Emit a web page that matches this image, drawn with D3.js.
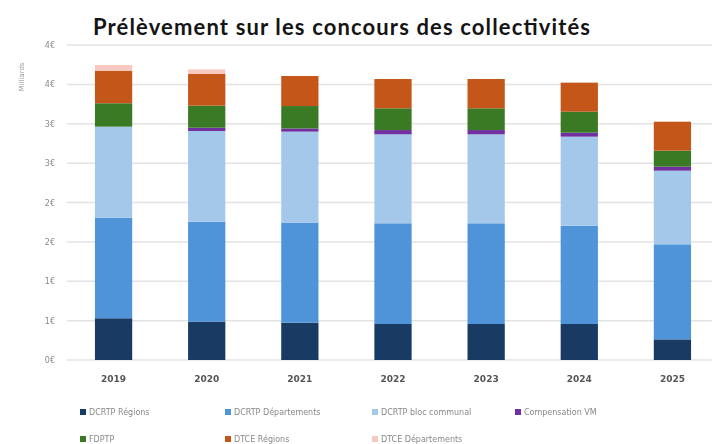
<!DOCTYPE html>
<html>
<head>
<meta charset="utf-8">
<script src="https://cdn.jsdelivr.net/npm/d3@7"></script>
<style>
  body { margin: 0; background: #fff; }
  svg { display: block; }
  .plot { filter: blur(0.35px); }
</style>
</head>
<body>
<script>
// years on x axis
var years = ['2019', '2020', '2021', '2022', '2023', '2024', '2025'];

// series values, in billions of euros
var dcrtpRegions      = [0.53, 0.487, 0.474, 0.457, 0.457, 0.457, 0.262];
var dcrtpDepartements = [1.277, 1.269, 1.270, 1.279, 1.279, 1.249, 1.207];
var dcrtpBloc         = [1.156, 1.152, 1.156, 1.130, 1.130, 1.130, 0.935];
var compensationVM    = [0.0, 0.042, 0.040, 0.054, 0.054, 0.051, 0.051];
var fdptp             = [0.297, 0.280, 0.285, 0.276, 0.276, 0.266, 0.203];
var dtceRegions       = [0.414, 0.402, 0.381, 0.372, 0.372, 0.369, 0.368];
var dtceDepartements  = [0.072, 0.058, 0, 0, 0, 0, 0];

var seriesNames = ['DCRTP Régions', 'DCRTP Départements', 'DCRTP bloc communal',
    'Compensation VM', 'FDPTP', 'DTCE Régions', 'DTCE Départements'];
var seriesValues = [dcrtpRegions, dcrtpDepartements, dcrtpBloc, compensationVM,
    fdptp, dtceRegions, dtceDepartements];
var colors = ['#183a63', '#4f94d9', '#a4c8ea', '#7030a0', '#3a7a25', '#c4561a', '#f6c9c1'];

// y ticks every half billion, labelled with no decimals
var yTicks = [0, 0.5, 1, 1.5, 2, 2.5, 3, 3.5, 4];
var yTickLabels = ['0€', '1€', '1€', '2€', '2€', '3€', '3€', '4€', '4€'];

var W = 712, H = 444;

// build rows for d3.stack
var rows = years.map(function(y, i) {
    var r = {year: y};
    seriesNames.forEach(function(n, j) { r[n] = seriesValues[j][i]; });
    return r;
});
var stacked = d3.stack().keys(seriesNames)(rows);

var xScale = d3.scaleBand().domain(years).range([67, 719]).paddingInner(0.6).paddingOuter(0.3);
var yScale = d3.scaleLinear().domain([0, 4]).range([360, 45]);

var svg = d3.select('body').append('svg')
    .attr('width', W)
    .attr('height', H);

// title
svg.append('text')
    .attr('x', 93)
    .attr('y', 35)
    .attr('font-family', 'Lato')
    .attr('font-weight', 'bold')
    .attr('font-size', 22)
    .attr('fill', '#151515')
    .attr('textLength', 497)
    .text('Prélèvement sur les concours des collectivités');

var plot = svg.append('g').attr('class', 'plot');

// gridlines
plot.selectAll('.grid')
    .data(yTicks)
    .enter().append('line')
    .attr('x1', 67)
    .attr('x2', W)
    .attr('y1', function(d) { return yScale(d); })
    .attr('y2', function(d) { return yScale(d); })
    .attr('stroke', '#e3e3e3')
    .attr('stroke-width', 1.5);

// y axis labels
var yAxis = d3.axisLeft(yScale)
    .tickValues(yTicks)
    .tickSize(0)
    .tickPadding(0)
    .tickFormat(function(d, i) { return yTickLabels[i]; });
var yg = plot.append('g')
    .attr('transform', 'translate(55,0)')
    .call(yAxis);
yg.select('.domain').remove();
yg.selectAll('text')
    .attr('font-family', 'DejaVu Sans')
    .attr('font-size', 8)
    .attr('fill', '#8a8a8a');

plot.append('text')
    .attr('transform', 'translate(24,77) rotate(-90)')
    .attr('text-anchor', 'middle')
    .attr('font-family', 'DejaVu Sans')
    .attr('font-size', 7)
    .attr('fill', '#999')
    .text('Milliards');

// bars
plot.selectAll('.layer')
    .data(stacked)
    .enter().append('g')
    .attr('fill', function(d, i) { return colors[i]; })
    .selectAll('rect')
    .data(function(d) { return d; })
    .enter().append('rect')
    .attr('x', function(d) { return xScale(d.data.year); })
    .attr('width', xScale.bandwidth())
    .attr('y', function(d) { return yScale(d[1]); })
    .attr('height', function(d) { return yScale(d[0]) - yScale(d[1]); });

// x axis labels
var xAxis = d3.axisBottom(xScale).tickSize(0).tickPadding(0);
var xg = plot.append('g')
    .attr('transform', 'translate(0,376)')
    .call(xAxis);
xg.select('.domain').remove();
xg.selectAll('text')
    .attr('font-family', 'DejaVu Sans')
    .attr('font-weight', 'bold')
    .attr('font-size', 9)
    .attr('fill', '#555');

// legend
var legendX = [80, 225, 372, 515, 80, 225, 372];
var legendY = [412, 412, 412, 412, 439, 439, 439];
var legend = plot.selectAll('.legend')
    .data(seriesNames)
    .enter().append('g')
    .attr('transform', function(d, i) { return 'translate(' + legendX[i] + ',' + legendY[i] + ')'; });
legend.append('rect')
    .attr('x', 0)
    .attr('y', -3)
    .attr('width', 6)
    .attr('height', 6)
    .attr('fill', function(d, i) { return colors[i]; });
legend.append('text')
    .attr('x', 9)
    .attr('y', 3)
    .attr('font-family', 'DejaVu Sans')
    .attr('font-size', 8)
    .attr('fill', '#888')
    .text(function(d) { return d; });
</script>
</body>
</html>
